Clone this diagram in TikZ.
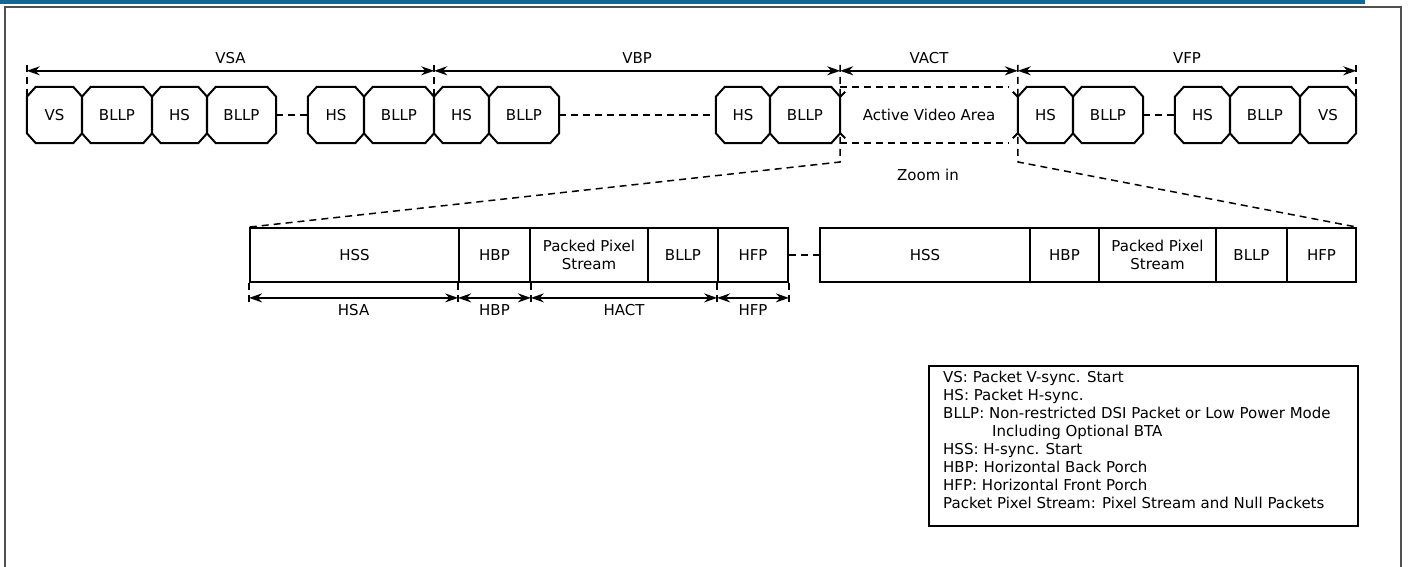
\documentclass[tikz,border=0pt]{standalone}
\usepackage{fontspec}
\setmainfont{DejaVu Sans}
\usetikzlibrary{arrows.meta}
\definecolor{barblue}{RGB}{18,104,148}
\definecolor{framegray}{RGB}{80,80,80}
\newcommand{\octpath}[1]{\draw[octline] ([xshift=9pt]#1.north west) -- ([xshift=-9pt]#1.north east) -- ([yshift=-10pt]#1.north east) -- ([yshift=10pt]#1.south east) -- ([xshift=-9pt]#1.south east) -- ([xshift=9pt]#1.south west) -- ([yshift=10pt]#1.south west) -- ([yshift=-10pt]#1.north west) -- cycle;}
\tikzset{
  txt/.style={font=\fontsize{15}{17.5}\selectfont},
  oct/.style={txt, minimum height=56pt, inner sep=0pt},
  octline/.style={line width=2pt, line join=miter},
  lbox/.style={txt, draw, line width=1.8pt, minimum height=54pt, inner sep=0pt, align=center},
  dsh/.style={line width=1.7pt, dash pattern=on 7pt off 5pt},
  tickline/.style={line width=1.5pt, dash pattern=on 7pt off 5pt},
  dimarrow/.style={line width=1.7pt, {Stealth[length=13pt,width=9pt]}-{Stealth[length=13pt,width=9pt]}},
}
\begin{document}
\begin{tikzpicture}[x=1pt,y=-1pt]
\useasboundingbox (0,0) rectangle (1408,567);
% page frame
\fill[barblue] (0,0) rectangle (1365,4);
\draw[framegray, line width=2pt] (5,567) -- (5,7) -- (1401,7) -- (1401,567);

% top row
\node[oct, minimum width=55pt] (vs1) at (54.5,115) {VS};
\node[oct, minimum width=70pt] (bl1) at (117,115) {BLLP};
\node[oct, minimum width=55pt] (hs1) at (179.5,115) {HS};
\node[oct, minimum width=69pt] (bl2) at (241.5,115) {BLLP};
\node[oct, minimum width=56pt] (hs2) at (336,115) {HS};
\node[oct, minimum width=70pt] (bl3) at (399,115) {BLLP};
\node[oct, minimum width=55pt] (hs3) at (461.5,115) {HS};
\node[oct, minimum width=70pt] (bl4) at (524,115) {BLLP};
\node[oct, minimum width=54pt] (hs4) at (743,115) {HS};
\node[oct, minimum width=70pt] (bl5) at (805,115) {BLLP};
\node[oct, minimum width=178pt] (ava) at (929,115) {Active Video Area};
\node[oct, minimum width=55pt] (hs5) at (1045.5,115) {HS};
\node[oct, minimum width=70pt] (bl6) at (1108,115) {BLLP};
\node[oct, minimum width=55pt] (hs6) at (1202.5,115) {HS};
\node[oct, minimum width=70pt] (bl7) at (1265,115) {BLLP};
\node[oct, minimum width=56pt] (vs2) at (1328,115) {VS};
\foreach \n in {vs1,bl1,hs1,bl2,hs2,bl3,hs3,bl4,hs4,bl5,hs5,bl6,hs6,bl7,vs2} {\octpath{\n}}

% dashed links in top row
\draw[dsh] (bl2.east) -- (hs2.west);
\draw[dsh] (bl4.east) -- (hs4.west);
\draw[dsh] (bl6.east) -- (hs6.west);
\draw[dsh] (bl5.north east) -- ([xshift=-9pt]hs5.north west);
\draw[dsh] (bl5.south east) -- ([xshift=-9pt]hs5.south west);
% small tips at the active area
\draw[octline] ([yshift=-10pt]bl5.north east) -- ++(5,-5);
\draw[octline] ([yshift=10pt]bl5.south east) -- ++(5,5);
\draw[octline] ([yshift=-10pt]hs5.north west) -- ++(-5,-5);
\draw[octline] ([yshift=10pt]hs5.south west) -- ++(-5,5);

% top dimension arrows
\coordinate (v0) at ([yshift=16pt]vs1.north west);
\coordinate (v1) at ([yshift=16pt]bl3.north east);
\coordinate (v2) at ([yshift=16pt]bl5.north east);
\coordinate (v3) at ([yshift=16pt]hs5.north west);
\coordinate (v4) at ([yshift=16pt]vs2.north east);
\draw[dimarrow] (v0) -- node[txt, above=3pt] {VSA} (v1);
\draw[dimarrow] (v1) -- node[txt, above=3pt] {VBP} (v2);
\draw[dimarrow] (v2) -- node[txt, above=3pt] {VACT} (v3);
\draw[dimarrow] (v3) -- node[txt, above=3pt] {VFP} (v4);

% lower row
\node[lbox, minimum width=209pt] (hss1) at (354.5,255) {HSS};
\node[lbox, minimum width=71pt] (hbp1) at (494.5,255) {HBP};
\node[lbox, minimum width=118pt] (pps1) at (589,255) {Packed Pixel\\Stream};
\node[lbox, minimum width=70pt] (bll1) at (683,255) {BLLP};
\node[lbox, minimum width=70pt] (hfp1) at (753,255) {HFP};
\node[lbox, minimum width=210pt] (hss2) at (925,255) {HSS};
\node[lbox, minimum width=69pt] (hbp2) at (1064.5,255) {HBP};
\node[lbox, minimum width=117pt] (pps2) at (1157.5,255) {Packed Pixel\\Stream};
\node[lbox, minimum width=71pt] (bll2) at (1251.5,255) {BLLP};
\node[lbox, minimum width=69pt] (hfp2) at (1321.5,255) {HFP};
\draw[dsh] (hfp1.east) -- (hss2.west);

% zoom lines
\coordinate (z1) at (840,162);
\coordinate (z2) at (1018,162);
\draw[tickline] ([yshift=6pt]v0) -- ([yshift=-10pt]vs1.north west);
\draw[tickline] ([yshift=6pt]v1) -- ([yshift=-10pt]bl3.north east);
\draw[tickline] ([yshift=6pt]v4) -- ([yshift=-10pt]vs2.north east);
\draw[tickline] ([yshift=6pt]v2) -- (z1) -- (hss1.north west);
\draw[tickline] ([yshift=6pt]v3) -- (z2) -- (hfp2.north east);
\node[txt] (zoomin) at (928,175) {Zoom in};

% lower dimension arrows
\coordinate (h0) at ([yshift=-15pt]hss1.south west);
\coordinate (h1) at ([yshift=-15pt]hbp1.south west);
\coordinate (h2) at ([yshift=-15pt]hbp1.south east);
\coordinate (h3) at ([yshift=-15pt]hfp1.south west);
\coordinate (h4) at ([yshift=-15pt]hfp1.south east);
\foreach \c/\b in {h0/hss1.south west,h1/hbp1.south west,h2/hbp1.south east,h3/hfp1.south west,h4/hfp1.south east}
  {\draw[tickline] (\b) -- ([yshift=-5pt]\c);}
\draw[dimarrow] (h0) -- node[txt, below=2pt] {HSA} (h1);
\draw[dimarrow] (h1) -- node[txt, below=2pt] {HBP} (h2);
\draw[dimarrow] (h2) -- node[txt, below=2pt] {HACT} (h3);
\draw[dimarrow] (h3) -- node[txt, below=2pt] {HFP} (h4);

% legend
\node[draw, line width=1.6pt, anchor=north west, minimum width=429pt, minimum height=160pt, inner sep=0pt] (legend) at (928,365) {};
\node[anchor=north west, align=left, inner sep=0pt, font=\fontsize{15}{18}\selectfont] (legtxt) at ([xshift=15pt,yshift=-6pt]legend.north west)
{VS: Packet V-sync. Start\\
HS: Packet H-sync.\\
BLLP: Non-restricted DSI Packet or Low Power Mode\\
\hspace*{49pt}Including Optional BTA\\
HSS: H-sync. Start\\
HBP: Horizontal Back Porch\\
HFP: Horizontal Front Porch\\
Packet Pixel Stream: Pixel Stream and Null Packets};
\end{tikzpicture}
\end{document}
